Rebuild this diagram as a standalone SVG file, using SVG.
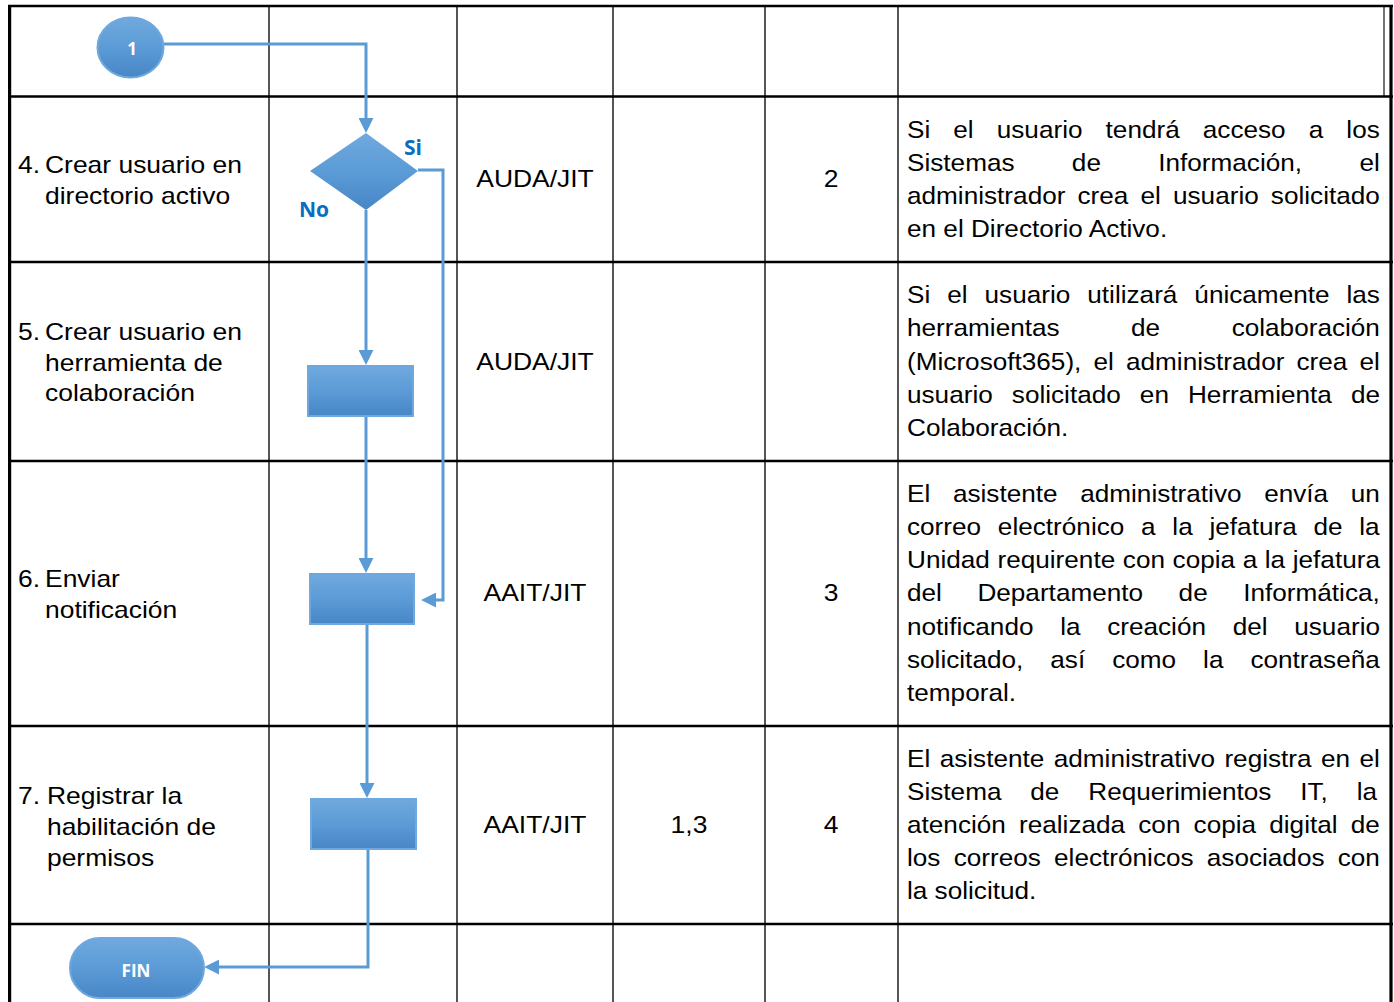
<svg xmlns="http://www.w3.org/2000/svg" width="1394" height="1002" viewBox="0 0 1394 1002">
  <style>
    .row { stroke: #000; stroke-width: 2.5; }
    .col { stroke: #555; stroke-width: 2; }
    .border { stroke: #000; stroke-width: 3.2; }
    .cell { font-family: "Liberation Sans", Arial, sans-serif; font-size: 23px; fill: #000; }
    .desc { font-family: "Liberation Sans", Arial, sans-serif; font-size: 24px; fill: #000; }
    .mid { text-anchor: middle; }
    .flow { fill: none; stroke: #5b9bd5; stroke-width: 3; }
    .shape { fill: url(#blueFill); stroke: #6fa8dc; stroke-width: 2; }
    .shapeLabel { font-family: "Open Sans", "Liberation Sans", sans-serif; font-weight: bold; font-size: 17px; fill: #fff; text-anchor: middle; }
    .branch { font-family: "Open Sans", "Liberation Sans", sans-serif; font-weight: bold; font-size: 21px; fill: #0a6cc2; }
  </style>
  <defs>
    <linearGradient id="blueFill" x1="0" y1="0" x2="0" y2="1">
      <stop offset="0" stop-color="#70a9de"/>
      <stop offset="0.5" stop-color="#5b9bd6"/>
      <stop offset="1" stop-color="#4886c6"/>
    </linearGradient>
    <marker id="arrow" markerWidth="5" markerHeight="5" refX="3.7" refY="2.5" orient="auto" markerUnits="strokeWidth">
      <path d="M0,0 L5,2.5 L0,5 z" fill="#5b9bd5"/>
    </marker>
  </defs>

  <rect width="1394" height="1002" fill="#fff"/>

  <!-- table grid -->
  <g id="table">
    <line class="col" x1="269" y1="6" x2="269" y2="1002"/>
    <line class="col" x1="457" y1="6" x2="457" y2="1002"/>
    <line class="col" x1="613" y1="6" x2="613" y2="1002"/>
    <line class="col" x1="765" y1="6" x2="765" y2="1002"/>
    <line class="col" x1="898" y1="6" x2="898" y2="1002"/>
    <line stroke="#444" stroke-width="1.5" x1="1384" y1="6" x2="1384" y2="96"/>
    <line class="row" x1="8" y1="6" x2="1393" y2="6"/>
    <line class="row" x1="8" y1="96.5" x2="1393" y2="96.5"/>
    <line class="row" x1="8" y1="262" x2="1393" y2="262"/>
    <line class="row" x1="8" y1="461" x2="1393" y2="461"/>
    <line class="row" x1="8" y1="726" x2="1393" y2="726"/>
    <line class="row" x1="8" y1="924" x2="1393" y2="924"/>
    <line class="border" x1="9.6" y1="5" x2="9.6" y2="1002"/>
    <line class="border" x1="1391" y1="5" x2="1391" y2="1002"/>
  </g>

  <!-- connectors -->
  <g id="connectors">
    <path class="flow" d="M164,44 H366 V129" marker-end="url(#arrow)"/>
    <path class="flow" d="M418,170 H443 V600 H425" marker-end="url(#arrow)"/>
    <path class="flow" d="M366,210 V361" marker-end="url(#arrow)"/>
    <path class="flow" d="M366,416 V569" marker-end="url(#arrow)"/>
    <path class="flow" d="M367,624 V794" marker-end="url(#arrow)"/>
    <path class="flow" d="M368,849 V967 H208" marker-end="url(#arrow)"/>
  </g>

  <!-- flow shapes -->
  <g id="start-connector">
    <ellipse class="shape" cx="130.5" cy="47.5" rx="33" ry="30"/>
    <text class="shapeLabel" x="132" y="55">1</text>
  </g>
  <g id="decision">
    <path d="M366,133 L418,171 L366,210 L310,171 Z" fill="url(#blueFill)"/>
    <text class="branch" x="404" y="155">Si</text>
    <text class="branch" x="299" y="217">No</text>
  </g>
  <g id="step5-box">
    <rect class="shape" x="308" y="366" width="105" height="50"/>
  </g>
  <g id="step6-box">
    <rect class="shape" x="310" y="574" width="104" height="50"/>
  </g>
  <g id="step7-box">
    <rect class="shape" x="311" y="799" width="105" height="50"/>
  </g>
  <g id="end">
    <rect class="shape" x="70" y="938" width="134" height="60" rx="30" ry="30"/>
    <text class="shapeLabel" x="136" y="977">FIN</text>
  </g>

  <!-- step 4 -->
  <g id="row4">
    <g transform="translate(18 173) scale(1.15 1)"><text class="cell" x="0" y="0">4.</text><text class="cell" x="23.5" y="0">Crear usuario en</text></g>
    <g transform="translate(18 204) scale(1.15 1)"><text class="cell" x="23.5" y="0">directorio activo</text></g>
    <g transform="translate(535 187) scale(1.15 1)"><text class="cell mid" x="0" y="0">AUDA/JIT</text></g>
    <g transform="translate(831 187) scale(1.15 1)"><text class="cell mid" x="0" y="0">2</text></g>
    <g transform="translate(907 0) scale(1.09 1)">
      <text class="desc" x="0" y="138" word-spacing="14.5">Si el usuario tendrá acceso a los</text>
      <text class="desc" x="0" y="171" word-spacing="45.9">Sistemas de Información, el</text>
      <text class="desc" x="0" y="204" word-spacing="4.45">administrador crea el usuario solicitado</text>
      <text class="desc" x="0" y="237">en el Directorio Activo.</text>
    </g>
  </g>

  <!-- step 5 -->
  <g id="row5">
    <g transform="translate(18 340) scale(1.15 1)"><text class="cell" x="0" y="0">5.</text><text class="cell" x="23.5" y="0">Crear usuario en</text></g>
    <g transform="translate(18 371) scale(1.15 1)"><text class="cell" x="23.5" y="0">herramienta de</text></g>
    <g transform="translate(18 401) scale(1.15 1)"><text class="cell" x="23.5" y="0">colaboración</text></g>
    <g transform="translate(535 370) scale(1.15 1)"><text class="cell mid" x="0" y="0">AUDA/JIT</text></g>
    <g transform="translate(907 0) scale(1.09 1)">
      <text class="desc" x="0" y="303" word-spacing="8.9">Si el usuario utilizará únicamente las</text>
      <text class="desc" x="0" y="336" word-spacing="58.9">herramientas de colaboración</text>
      <text class="desc" x="0" y="370" word-spacing="4.45">(Microsoft365), el administrador crea el</text>
      <text class="desc" x="0" y="403" word-spacing="10.8">usuario solicitado en Herramienta de</text>
      <text class="desc" x="0" y="436">Colaboración.</text>
    </g>
  </g>

  <!-- step 6 -->
  <g id="row6">
    <g transform="translate(18 587) scale(1.15 1)"><text class="cell" x="0" y="0">6.</text><text class="cell" x="23.5" y="0">Enviar</text></g>
    <g transform="translate(18 618) scale(1.15 1)"><text class="cell" x="23.5" y="0">notificación</text></g>
    <g transform="translate(535 601) scale(1.15 1)"><text class="cell mid" x="0" y="0">AAIT/JIT</text></g>
    <g transform="translate(831 601) scale(1.15 1)"><text class="cell mid" x="0" y="0">3</text></g>
    <g transform="translate(907 0) scale(1.09 1)">
      <text class="desc" x="0" y="502" word-spacing="14.1">El asistente administrativo envía un</text>
      <text class="desc" x="0" y="535" word-spacing="8.7">correo electrónico a la jefatura de la</text>
      <text class="desc" x="0" y="568" word-spacing="0.3">Unidad requirente con copia a la jefatura</text>
      <text class="desc" x="0" y="601" word-spacing="25.9">del Departamento de Informática,</text>
      <text class="desc" x="0" y="635" word-spacing="17.8">notificando la creación del usuario</text>
      <text class="desc" x="0" y="668" word-spacing="18.1">solicitado, así como la contraseña</text>
      <text class="desc" x="0" y="701">temporal.</text>
    </g>
  </g>

  <!-- step 7 -->
  <g id="row7">
    <g transform="translate(18 804) scale(1.15 1)"><text class="cell" x="0" y="0">7.</text><text class="cell" x="25.2" y="0">Registrar la</text></g>
    <g transform="translate(18 835) scale(1.15 1)"><text class="cell" x="25.2" y="0">habilitación de</text></g>
    <g transform="translate(18 866) scale(1.15 1)"><text class="cell" x="25.2" y="0">permisos</text></g>
    <g transform="translate(535 833) scale(1.15 1)"><text class="cell mid" x="0" y="0">AAIT/JIT</text></g>
    <g transform="translate(689 833) scale(1.15 1)"><text class="cell mid" x="0" y="0">1,3</text></g>
    <g transform="translate(831 833) scale(1.15 1)"><text class="cell mid" x="0" y="0">4</text></g>
    <g transform="translate(907 0) scale(1.09 1)">
      <text class="desc" x="0" y="767" word-spacing="1.95">El asistente administrativo registra en el</text>
      <text class="desc" x="0" y="800" word-spacing="19.8">Sistema de Requerimientos IT, la</text>
      <text class="desc" x="0" y="833" word-spacing="5.4">atención realizada con copia digital de</text>
      <text class="desc" x="0" y="866" word-spacing="5.45">los correos electrónicos asociados con</text>
      <text class="desc" x="0" y="899">la solicitud.</text>
    </g>
  </g>
</svg>
